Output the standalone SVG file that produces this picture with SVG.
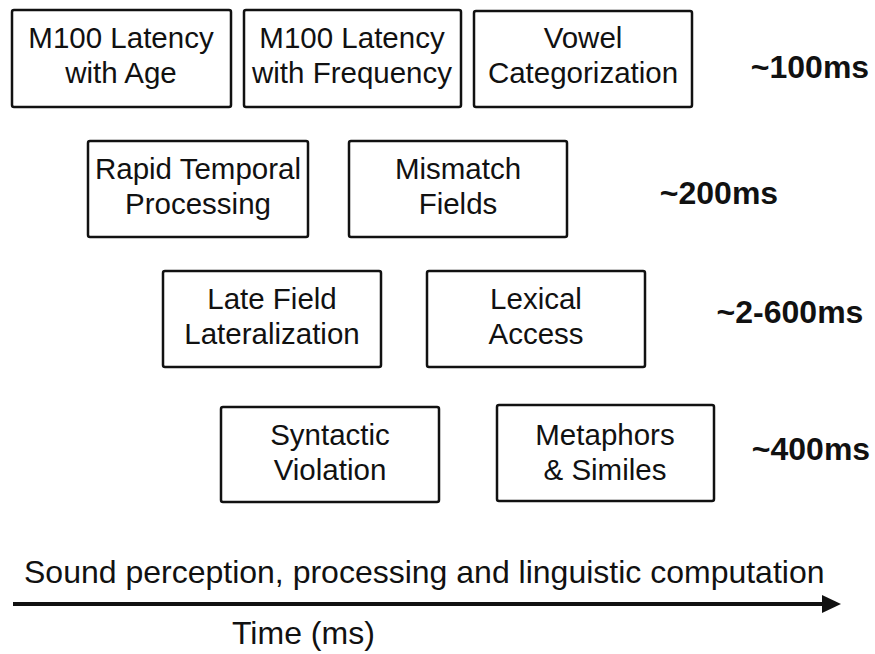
<svg xmlns="http://www.w3.org/2000/svg" width="875" height="654" viewBox="0 0 875 654">
<style>
.box{fill:#fff;stroke:#111;stroke-width:2.5}
.t{font-family:"Liberation Sans",Arial,sans-serif;font-size:29.5px;fill:#111;text-anchor:middle}
.ms{font-family:"Liberation Sans",Arial,sans-serif;font-size:32px;font-weight:bold;fill:#111;text-anchor:middle}
.ax{font-family:"Liberation Sans",Arial,sans-serif;font-size:32px;fill:#111}
</style>
<defs>
<marker id="arr" markerWidth="19" markerHeight="18" refX="1" refY="9" orient="auto" markerUnits="userSpaceOnUse"><path d="M0,0 L19,9 L0,18 z" fill="#111"/></marker>
</defs>
<rect width="875" height="654" fill="#fff"/>
<g id="n1"><rect class="box" x="12" y="10" width="219" height="97" rx="2"/><text class="t" x="121" y="48">M100 Latency</text><text class="t" x="121" y="83">with Age</text></g>
<g id="n2"><rect class="box" x="244" y="10" width="217" height="97" rx="2"/><text class="t" x="352" y="48">M100 Latency</text><text class="t" x="352" y="83">with Frequency</text></g>
<g id="n3"><rect class="box" x="474" y="11" width="218" height="96" rx="2"/><text class="t" x="583" y="48">Vowel</text><text class="t" x="583" y="83">Categorization</text></g>
<g id="n4"><rect class="box" x="88" y="141" width="220" height="96" rx="2"/><text class="t" x="198" y="179">Rapid Temporal</text><text class="t" x="198" y="214">Processing</text></g>
<g id="n5"><rect class="box" x="349" y="141" width="218" height="96" rx="2"/><text class="t" x="458" y="179">Mismatch</text><text class="t" x="458" y="214">Fields</text></g>
<g id="n6"><rect class="box" x="163" y="271" width="218" height="96" rx="2"/><text class="t" x="272" y="309">Late Field</text><text class="t" x="272" y="344">Lateralization</text></g>
<g id="n7"><rect class="box" x="427" y="271" width="218" height="96" rx="2"/><text class="t" x="536" y="309">Lexical</text><text class="t" x="536" y="344">Access</text></g>
<g id="n8"><rect class="box" x="221" y="407" width="218" height="95" rx="2"/><text class="t" x="330" y="445">Syntactic</text><text class="t" x="330" y="480">Violation</text></g>
<g id="n9"><rect class="box" x="497" y="405" width="217" height="96" rx="2"/><text class="t" x="605" y="445">Metaphors</text><text class="t" x="605" y="480">&amp; Similes</text></g>
<g id="labels">
<text class="ms" x="810" y="78">~100ms</text>
<text class="ms" x="719" y="204">~200ms</text>
<text class="ms" x="790" y="323">~2-600ms</text>
<text class="ms" x="811" y="460">~400ms</text>
</g>
<g id="connectors">
<line x1="13" y1="604" x2="823" y2="604" stroke="#111" stroke-width="4" marker-end="url(#arr)"/>
</g>
<text class="ax" x="24" y="583">Sound perception, processing and linguistic computation</text>
<text class="ax" x="232" y="644">Time (ms)</text>
</svg>
